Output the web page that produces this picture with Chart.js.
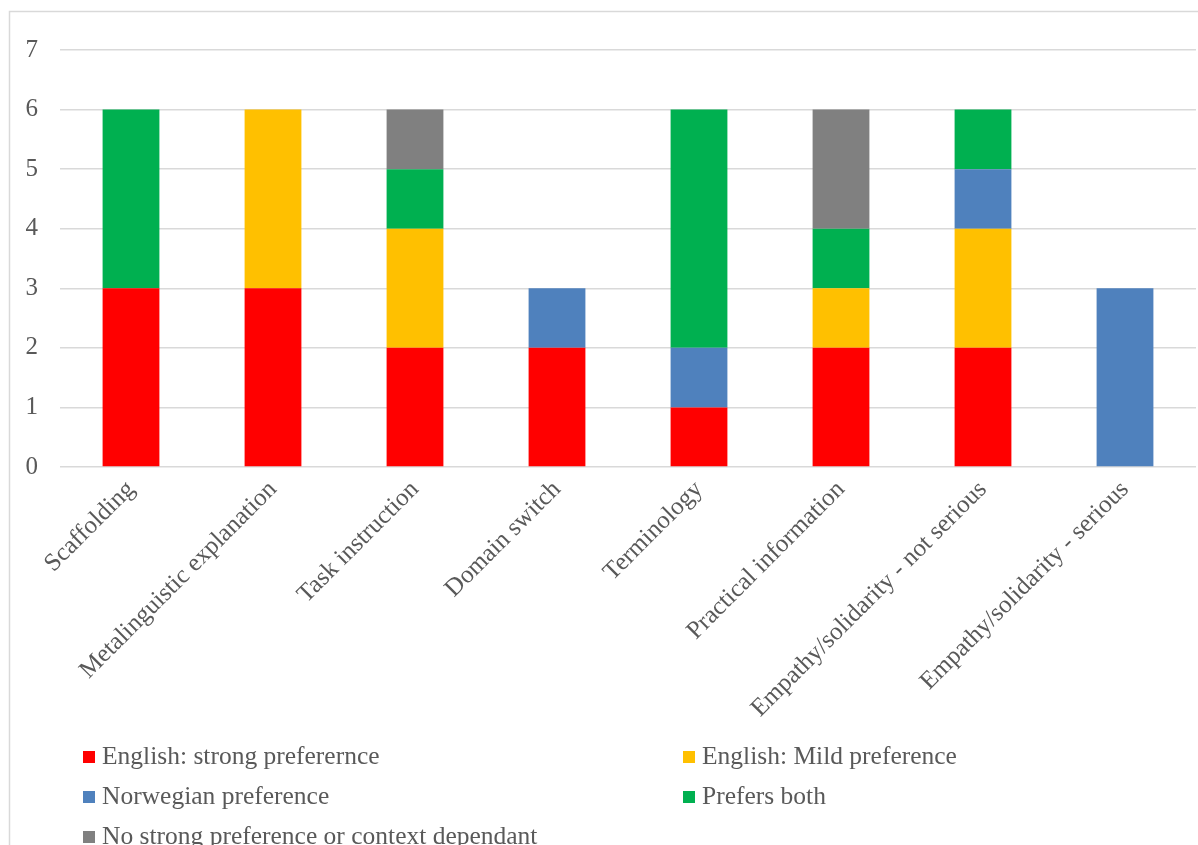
<!DOCTYPE html>
<html>
<head>
<meta charset="utf-8">
<script src="https://cdn.jsdelivr.net/npm/chart.js@4/dist/chart.umd.min.js"></script>
<style>
  html, body { margin: 0; padding: 0; background: #ffffff; }
  #wrap { position: relative; width: 1198px; height: 845px; }
</style>
</head>
<body>
<div id="wrap"><canvas id="chart" width="1198" height="845"></canvas></div>
<script>
// Communicative functions and the language preference reported for each
const categories = [
  'Scaffolding',
  'Metalinguistic explanation',
  'Task instruction',
  'Domain switch',
  'Terminology',
  'Practical information',
  'Empathy/solidarity - not serious',
  'Empathy/solidarity - serious'
];

const seriesNames = [
  'English: strong preferernce',
  'English: Mild preference',
  'Norwegian preference',
  'Prefers both',
  'No strong preference or context dependant'
];

const strongEnglish = [3, 3, 2, 2, 1, 2, 2, 0];
const mildEnglish   = [0, 3, 2, 0, 0, 1, 2, 0];
const norwegian     = [0, 0, 0, 1, 1, 0, 1, 3];
const preferBoth    = [3, 0, 1, 0, 4, 1, 1, 0];
const noPreference  = [0, 0, 1, 0, 0, 2, 0, 0];

const yTicks = [0, 1, 2, 3, 4, 5, 6, 7];

const seriesColors = ['#FF0000', '#FFC000', '#4F81BD', '#00B050', '#808080'];
const seriesValues = [strongEnglish, mildEnglish, norwegian, preferBoth, noPreference];

const FONT = "'Liberation Serif', 'Times New Roman', serif";
const TEXT = '#595959';
const GRID = '#d9d9d9';

// Light frame along the top and left edge
const framePlugin = {
  id: 'frame',
  beforeDraw(chart) {
    const ctx = chart.ctx;
    ctx.save();
    ctx.fillStyle = '#ffffff';
    ctx.fillRect(0, 0, chart.width, chart.height);
    ctx.strokeStyle = GRID;
    ctx.lineWidth = 1.5;
    ctx.beginPath();
    ctx.moveTo(9.5, chart.height);
    ctx.lineTo(9.5, 11.5);
    ctx.lineTo(chart.width, 11.5);
    ctx.stroke();
    ctx.restore();
  }
};

// Two-column legend below the category labels
const columnLegend = {
  id: 'columnLegend',
  afterDraw(chart) {
    const ctx = chart.ctx;
    ctx.save();
    ctx.font = '25.5px ' + FONT;
    ctx.textBaseline = 'middle';
    ctx.textAlign = 'left';
    chart.data.datasets.forEach((ds, i) => {
      const col = i % 2;
      const row = Math.floor(i / 2);
      const x = col === 0 ? 83 : 683;
      const y = 757 + row * 40;
      ctx.fillStyle = ds.backgroundColor;
      ctx.fillRect(x, y - 6, 12, 12);
      ctx.fillStyle = TEXT;
      ctx.fillText(ds.label, x + 19, y);
    });
    ctx.restore();
  }
};

new Chart(document.getElementById('chart'), {
  type: 'bar',
  data: {
    labels: categories,
    datasets: seriesNames.map((name, i) => ({
      label: name,
      data: seriesValues[i],
      backgroundColor: seriesColors[i],
      borderWidth: 0,
      barPercentage: 0.5,
      categoryPercentage: 0.8
    }))
  },
  options: {
    responsive: false,
    animation: false,
    devicePixelRatio: 1,
    layout: { padding: { top: 50, right: 2, bottom: 78, left: 0 } },
    plugins: {
      legend: { display: false },
      tooltip: { enabled: false },
      title: { display: false }
    },
    scales: {
      x: {
        stacked: true,
        grid: { display: false, drawTicks: false },
        border: { display: false },
        ticks: {
          color: TEXT,
          font: { family: FONT, size: 25 },
          maxRotation: 45,
          minRotation: 45,
          autoSkip: false,
          padding: 8
        },
        afterFit(scale) { scale.height = 300; }
      },
      y: {
        stacked: true,
        min: 0,
        max: 7,
        afterBuildTicks(scale) { scale.ticks = yTicks.map(v => ({ value: v })); },
        grid: { color: GRID, lineWidth: 1.5, drawTicks: false },
        border: { display: false },
        ticks: {
          color: TEXT,
          font: { family: FONT, size: 25 },
          padding: 22
        },
        afterFit(scale) { scale.width = 60; }
      }
    }
  },
  plugins: [framePlugin, columnLegend]
});
</script>
</body>
</html>
